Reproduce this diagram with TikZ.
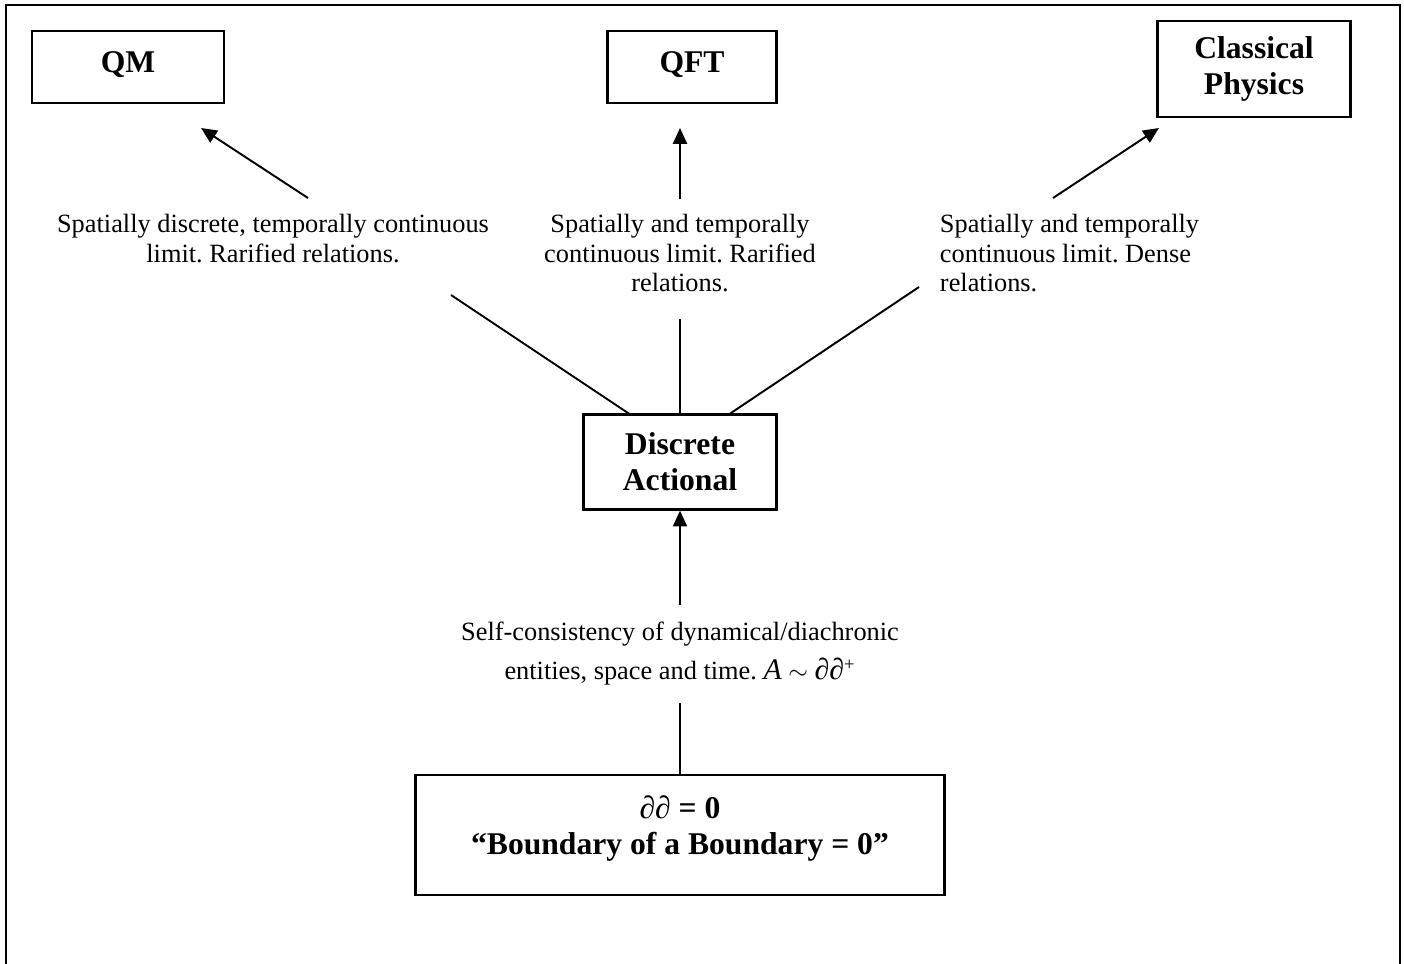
\documentclass[tikz,border=0pt]{standalone}
\usepackage{fontspec}
\setmainfont{Liberation Serif}
\usetikzlibrary{positioning,arrows.meta}
\frenchspacing

\begin{document}
\begin{tikzpicture}
            [x=0.02cm,y=-0.02cm,line width=1.1pt,
             box/.style={draw, rectangle, line width=1.3pt, inner sep=0pt, align=center, font=\fontsize{18}{20.5}\selectfont\bfseries},
             lbl/.style={inner sep=0pt, font=\fontsize{15}{17}\selectfont},
             arr/.style={-{Triangle[length=9pt,width=8pt]}}]
            \useasboundingbox (0,0) rectangle (1404,964);
            \draw[line width=1.4pt] (6,964) -- (6,5) -- (1400,5) -- (1400,964);

            % boxes
            \node[box, minimum width=3.84cm, minimum height=1.44cm, text depth=0.2cm] (QM) at (128,67) {QM};
            \node[box, minimum width=3.38cm, minimum height=1.44cm, text depth=0.2cm] (QFT) at (692,67) {QFT};
            \node[box, minimum width=3.86cm, minimum height=1.92cm] (CP) at (1254,69) {Classical\\Physics};
            \node[box, minimum width=3.86cm, minimum height=1.90cm] (DA) at (680,462) {Discrete\\Actional};
            \node[box, minimum width=10.58cm, minimum height=2.40cm, text depth=0.4cm] (BB) at (680,835)
                 {{\mdseries\itshape ∂∂} = 0\\“Boundary of a Boundary = 0”};

            % labels
            \begin{scope}
              \clip (0,0) rectangle (489,964);
              \node[lbl, align=center, anchor=north] (qmLbl) at (273,213)
                   {Spatially discrete, temporally continuous\\limit. Rarified relations.};
            \end{scope}
            \node[lbl, align=center, anchor=north] (qftLbl) at (680,213)
                 {Spatially and temporally\\continuous limit. Rarified\\relations.};
            \node[lbl, align=left, anchor=north west] (cpLbl) at (939,213)
                 {Spatially and temporally\\continuous limit. Dense\\relations.};
            \node[lbl, align=center, anchor=north] (selfLbl) at (680,621)
                 {Self-consistency of dynamical/diachronic\\[5pt]entities, space and time. {\fontsize{17}{17}\selectfont\itshape A} $\sim$ {\fontsize{17}{17}\selectfont\itshape ∂∂}\textsuperscript{+}};

            % connector ends
            \coordinate (qmTail) at (308,198);  \coordinate (qmTip) at (201,128);
            \coordinate (qftTail) at (680,199); \coordinate (qftTip) at (680,128);
            \coordinate (cpTail) at (1053,198); \coordinate (cpTip) at (1159,128);
            \coordinate (qmLow) at (451,295);   \coordinate (daL) at (631,415);
            \coordinate (qftLow) at (680,319);
            \coordinate (cpLow) at (919,287);   \coordinate (daR) at (728,415);
            \coordinate (selfTop) at (680,605); \coordinate (selfLow) at (680,703);

            \foreach \from/\to in {qmTail/qmTip, qftTail/qftTip, cpTail/cpTip, selfTop/DA}
            \draw[arr] (\from) -- (\to);
            \foreach \from/\to in {daL/qmLow, DA.north/qftLow, daR/cpLow, BB/selfLow}
            \draw (\from) -- (\to);
          \end{tikzpicture}
\end{document}
